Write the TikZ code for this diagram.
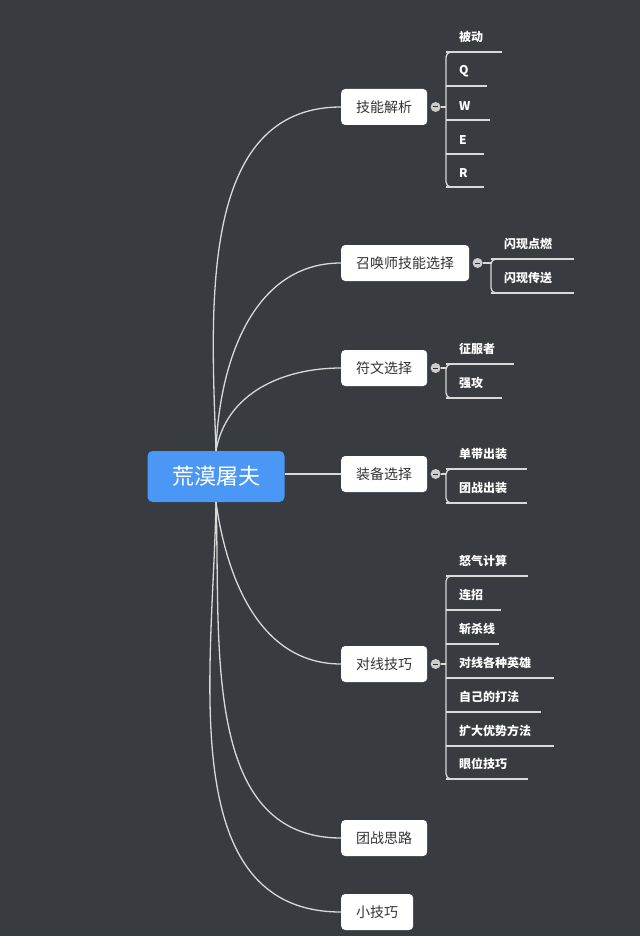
\documentclass[tikz,border=0pt]{standalone}
\usepackage{fontspec}
\setmainfont{Noto Sans CJK SC}
\usetikzlibrary{positioning}
\definecolor{bgcol}{HTML}{383B3F}
\definecolor{rootcol}{HTML}{4A97F6}
\definecolor{topiccol}{HTML}{333333}
\begin{document}
\begin{tikzpicture}[x=1pt, y=-1pt,
    rootbox/.style={draw=none, fill=rootcol, rounded corners=5, minimum width=137pt, minimum height=51pt, text=white, font=\fontsize{22}{25}\selectfont},
    topic/.style={fill=white, rounded corners=4, minimum height=36pt, inner xsep=15pt, text=topiccol, font=\fontsize{14}{16}\selectfont},
    sub/.style={anchor=south west, inner sep=0pt, text=white, font=\fontsize{12}{14}\selectfont\bfseries},
    branch/.style={draw=white!85!black, line width=1.3pt},
    fold/.style={circle, fill=white!80!black, minimum size=10pt, inner sep=0pt}
  ]
  \fill[bgcol] (0,0) rectangle (640,936);
  \useasboundingbox (0,0) rectangle (640,936);

  % root
  \node[rootbox] (root) at (216,476.5) {荒漠屠夫};

  % topics
  \node[topic, anchor=west] (t1) at (341,107) {技能解析};
  \node[topic, anchor=west] (t2) at (341,263) {召唤师技能选择};
  \node[topic, anchor=west] (t3) at (341,368) {符文选择};
  \node[topic, anchor=west] (t4) at (341,474) {装备选择};
  \node[topic, anchor=west] (t5) at (341,664) {对线技巧};
  \node[topic, anchor=west] (t6) at (341,838) {团战思路};
  \node[topic, anchor=west] (t7) at (341,912) {小技巧};

  % curves from root
  \draw[branch] (root.north) to[out=92, in=180] (t1.west);
  \draw[branch] (root.north) to[out=88, in=180] (t2.west);
  \draw[branch] (root.north) to[out=80, in=180] (t3.west);
  \draw[branch] (root.east |- t4.west) -- (t4.west);
  \draw[branch] (root.south) to[out=-82, in=180] (t5.west);
  \draw[branch] (root.south) to[out=-88, in=180] (t6.west);
  \draw[branch] (root.south) to[out=-91, in=180] (t7.west);

  % fold buttons
  \foreach \t in {t1,t2,t3,t4,t5} {
    \node[fold, right=3pt of \t.east] (f\t) {};
    \draw[topiccol, line width=1pt] ([xshift=-2.5pt]f\t.center) -- ([xshift=2.5pt]f\t.center);
  }

  % sub topics: spine x, first y, last y, list of y/end/text
  \foreach \t/\sx/\ya/\yb/\items in {
      t1/446/52/187/{52/502/被动,86/487/Q,120/490/W,154/484/E,187/484/R},
      t2/491/259/293/{259/574/闪现点燃,293/574/闪现传送},
      t3/446/364/398/{364/514/征服者,398/502/强攻},
      t4/446/469/503/{469/527/单带出装,503/527/团战出装},
      t5/446/576/779/{576/528/怒气计算,610/501/连招,644/499/斩杀线,678/554/对线各种英雄,712/541/自己的打法,746/554/扩大优势方法,779/528/眼位技巧}} {
    \coordinate (sp\t) at (\sx,0);
    \draw[branch] (f\t.east) -- (f\t.east -| sp\t);
    \draw[branch, rounded corners=5] (\sx+12,\ya) -- (\sx,\ya) -- (\sx,\yb) -- (\sx+12,\yb);
    \foreach \uy/\ux/\txt in \items {
      \draw[branch] (\sx,\uy) -- (\ux,\uy);
      \node[sub] (s\t\uy) at (\sx+13,\uy-9) {\txt};
    }
  }
\end{tikzpicture}
\end{document}
